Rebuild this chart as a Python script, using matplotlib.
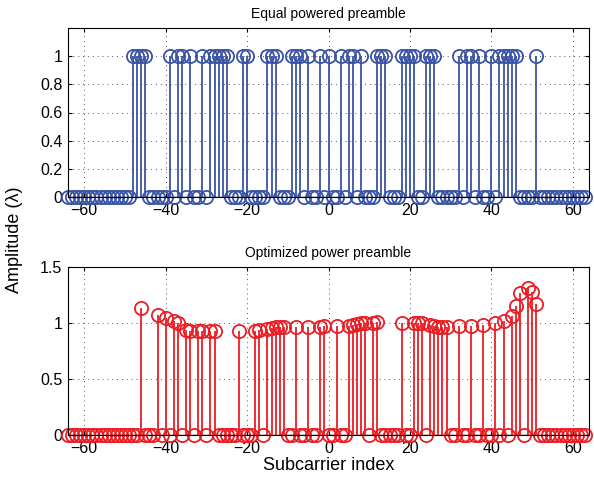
import matplotlib
matplotlib.use("Agg")
import matplotlib.pyplot as plt
import numpy as np

plt.rcParams['font.family'] = ['Liberation Sans', 'DejaVu Sans']

subcarriers = list(range(-64, 64))

# Equal powered preamble: active subcarriers (amplitude 1)
eq_active = [-48, -47, -46, -45, -39, -37, -36, -34, -31, -29, -28, -27, -26, -25,
             -21, -20, -15, -14, -13, -9, -8, -7, -5, -2, 0, 3, 5, 6, 8,
             12, 13, 14, 18, 19, 20, 21, 24, 25, 26, 32, 34, 35, 37, 40,
             42, 43, 44, 45, 46, 51]

# Optimized power preamble: active subcarriers and amplitudes
opt_active = [-46, -42, -40, -38, -37, -35, -34, -32, -31, -29, -28,
              -22, -18, -17, -15, -14, -13, -12, -11, -8, -5, -2, -1,
              2, 5, 6, 7, 8, 9, 11, 12, 18, 21, 22, 23, 25, 26, 27, 28, 29,
              32, 35, 38, 41, 43, 45, 46, 47, 49, 50, 51]
opt_amp = [1.13, 1.07, 1.045, 1.02, 1.0, 0.94, 0.93, 0.93, 0.93, 0.93, 0.93,
           0.93, 0.93, 0.94, 0.95, 0.955, 0.96, 0.96, 0.965, 0.965, 0.965, 0.965, 0.97,
           0.97, 0.975, 0.98, 0.99, 1.0, 1.0, 1.0, 1.01, 1.0, 1.0, 1.0, 1.0, 0.985, 0.975, 0.965, 0.96, 0.965,
           0.97, 0.975, 0.985, 1.0, 1.02, 1.06, 1.15, 1.27, 1.31, 1.28, 1.17]

eq_vals = [1.0 if k in eq_active else 0.0 for k in subcarriers]
opt_map = dict(zip(opt_active, opt_amp))
opt_vals = [opt_map.get(k, 0.0) for k in subcarriers]

W, H = 594, 487
fig = plt.figure(figsize=(W / 100, H / 100), dpi=100)

blue = '#3a53a4'
red = '#ec1c24'

def setup(ax, yticks, ylim, ylabels):
    ax.set_xlim(-64, 64)
    ax.set_ylim(*ylim)
    ax.set_xticks([-60, -40, -20, 0, 20, 40, 60])
    ax.set_xticklabels(['\u221260', '\u221240', '\u221220', '0', '20', '40', '60'])
    ax.set_yticks(yticks)
    ax.set_yticklabels(ylabels)
    ax.tick_params(direction='in', length=3, labelsize=11.5, top=True, right=True, pad=4)
    ax.grid(True, linestyle=(0, (1, 4)), color='#555555', linewidth=0.7)
    for s in ax.spines.values():
        s.set_linewidth(0.8)
        s.set_color('black')

def stem(ax, x, y, color):
    ml, sl, bl = ax.stem(x, y, basefmt=' ')
    plt.setp(sl, color=color, linewidth=1.3)
    plt.setp(ml, markerfacecolor='none', markeredgecolor=color, markersize=9.5,
             markeredgewidth=1.3, clip_on=False)
    ax.axhline(0, color='black', linewidth=1.0, zorder=1)

ax1 = fig.add_axes([68 / W, 1 - 197 / H, 521 / W, 169 / H])
stem(ax1, subcarriers, eq_vals, blue)
setup(ax1, [0, 0.2, 0.4, 0.6, 0.8, 1], (0, 1.2), ['0', '0.2', '0.4', '0.6', '0.8', '1'])
ax1.set_title('Equal powered preamble', fontsize=10, pad=7)

ax2 = fig.add_axes([68 / W, 1 - 435 / H, 521 / W, 168 / H])
stem(ax2, subcarriers, opt_vals, red)
setup(ax2, [0, 0.5, 1, 1.5], (0, 1.5), ['0', '0.5', '1', '1.5'])
ax2.set_title('Optimized power preamble', fontsize=10, pad=7)
ax2.set_xlabel('Subcarrier index', fontsize=13, labelpad=1)

fig.text(15 / W, 1 - 240 / H, 'Amplitude (\u03bb)', rotation=90, fontsize=13,
         ha='center', va='center')

fig.savefig('out.png', dpi=100)
